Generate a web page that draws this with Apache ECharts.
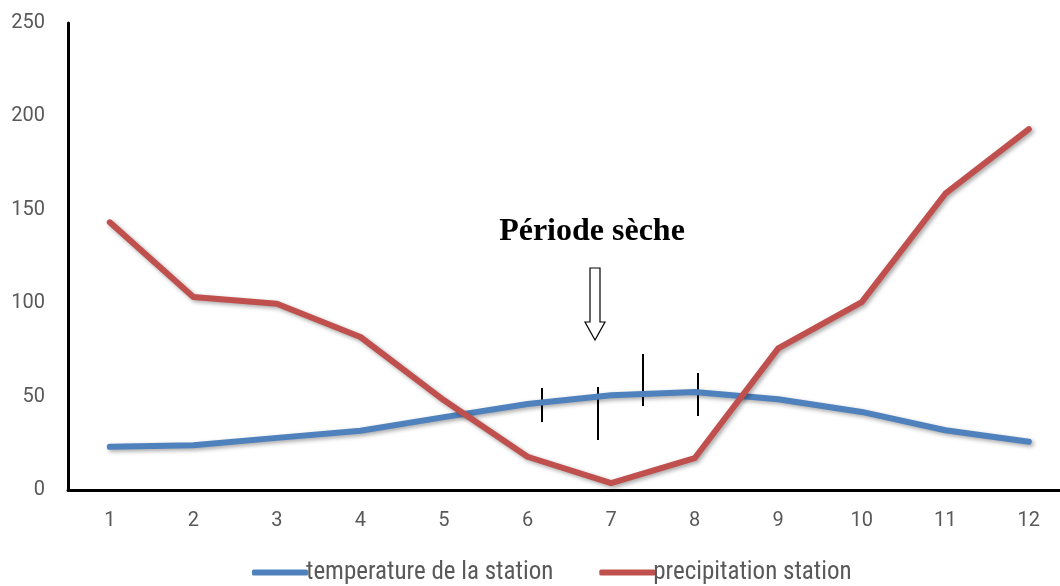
<!DOCTYPE html>
<html>
<head>
<meta charset="utf-8">
<script src="https://cdn.jsdelivr.net/npm/echarts@6/dist/echarts.min.js"></script>
<style>html,body{margin:0;padding:0;background:#fff}#c{width:1060px;height:586px}</style>
</head>
<body>
<div id="c"></div>
<script>
const categories = ['1','2','3','4','5','6','7','8','9','10','11','12'];
const temperature = [23.1, 24, 27.9, 31.7, 39, 46, 50.7, 52.5, 48.6, 41.8, 32, 25.8];
const precipitation = [143.3, 103.3, 99.7, 81.9, 48, 17.8, 3.7, 17, 75.8, 100.6, 158.6, 193.2];
const yTicks = [0, 50, 100, 150, 200, 250];

const xPos = categories.map((c, i) => i + 1);
const toPairs = arr => arr.map((v, i) => [xPos[i], v]);

const chart = echarts.init(document.getElementById('c'));
const shadow = {shadowColor:'rgba(0,0,0,0.35)', shadowBlur:4, shadowOffsetX:2, shadowOffsetY:2};
chart.setOption({
  animation:false,
  grid:{left:68, right:0, top:23, bottom:96, containLabel:false},
  xAxis:{type:'value', min:0.5, max:12.373,
    axisLine:{show:true, onZero:false, lineStyle:{color:'#000', width:3}}, axisTick:{show:false},
    splitLine:{show:false},
    axisLabel:{customValues:xPos, formatter:v => categories[Math.round(v) - 1] || '',
      color:'#595959', fontFamily:'Roboto', fontSize:20, margin:21}},
  yAxis:{type:'value', min:yTicks[0], max:yTicks[yTicks.length-1], interval:50,
    axisLine:{show:true, lineStyle:{color:'#000', width:3}}, axisTick:{show:false},
    splitLine:{show:false},
    axisLabel:{color:'#595959', fontFamily:'Roboto', fontSize:20, margin:23, align:'right'}},
  legend:{top:555, left:247, itemWidth:56, itemHeight:6, itemGap:46,
    icon:'roundRect',
    textStyle:{color:'#595959', fontFamily:'Liberation Sans Narrow, Arial Narrow, Roboto Condensed, sans-serif', fontSize:25, padding:[0,0,0,-7]},
    data:['temperature de la station','precipitation station']},
  series:[
    {name:'temperature de la station', type:'line', data:toPairs(temperature), symbol:'none',
     itemStyle:{color:'#4f81bd'}, lineStyle:Object.assign({color:'#4f81bd', width:6, cap:'round', join:'round'}, shadow)},
    {name:'precipitation station', type:'line', data:toPairs(precipitation), symbol:'none',
     itemStyle:{color:'#c0504d'}, lineStyle:Object.assign({color:'#c0504d', width:6, cap:'round', join:'round'}, shadow)}
  ],
  graphic:[
    {type:'text', x:592, y:232, style:{text:'Période sèche', font:'bold 32px "Liberation Serif", "Times New Roman", serif', fill:'#000', align:'center', verticalAlign:'middle'}},
    {type:'polygon', shape:{points:[[590,268],[600,268],[600,322],[605,322],[595,340],[585,322],[590,322]]},
     style:{fill:'#fff', stroke:'#000', lineWidth:1.2}},
    {type:'line', shape:{x1:542,y1:388,x2:542,y2:422}, style:{stroke:'#000', lineWidth:2}},
    {type:'line', shape:{x1:598,y1:387,x2:598,y2:440}, style:{stroke:'#000', lineWidth:2}},
    {type:'line', shape:{x1:643,y1:354,x2:643,y2:406}, style:{stroke:'#000', lineWidth:2}},
    {type:'line', shape:{x1:698,y1:373,x2:698,y2:416}, style:{stroke:'#000', lineWidth:2}}
  ]
});
</script>
</body>
</html>
